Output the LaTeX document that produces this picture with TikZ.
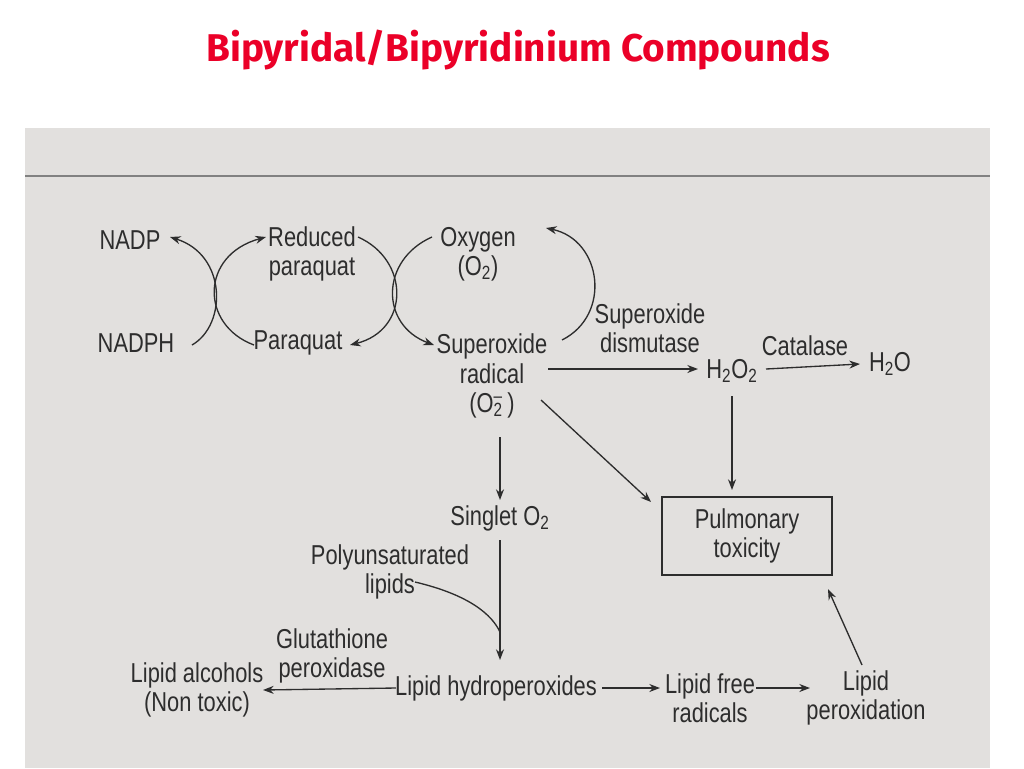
\documentclass[tikz,border=0pt]{standalone}
\usepackage{fontspec}
\setmainfont{Liberation Sans}[FakeStretch=0.8]
\newfontfamily\titlefont{Fira Sans}
\usetikzlibrary{arrows.meta}
\definecolor{scan}{RGB}{226,224,222}
\definecolor{ink}{RGB}{45,45,45}
\definecolor{titlered}{RGB}{235,0,40}
\begin{document}
\begin{tikzpicture}[x=0.75pt,y=-0.75pt,
  lab/.style={text=ink,font=\fontsize{20.5}{22}\selectfont,inner sep=1pt,align=center},
  arr/.style={draw=ink,line width=1pt,-{Stealth[length=8pt,width=6pt]}},
  ln/.style={draw=ink,line width=1pt}]
\useasboundingbox (0,0) rectangle (1024,768);
\fill[white] (0,0) rectangle (1024,768);
\fill[scan] (25,128) rectangle (990,768);
\draw[ink!60,line width=1.2pt] (25,176) -- (990,176);
\node[text=titlered,font=\titlefont\bfseries\fontsize{29}{32}\selectfont] (title) at (518,50) {Bipyridal/Bipyridinium Compounds};

\node[lab] (nadp) at (130,240) {NADP};
\node[lab] (nadph) at (136,343) {NADPH};
\node[lab] (red) at (312,254) {Reduced\\paraquat};
\node[lab] (pq) at (298,343) {Paraquat};
\node[lab] (oxy) at (478,254) {Oxygen\\(O\textsubscript{2})};
\node[lab] (sup) at (492,376) {Superoxide\\radical\\(O\rlap{\textsuperscript{–}}\textsubscript{2}\,)};
\node[lab] (sod) at (650,328) {Superoxide\\dismutase};
\node[lab] (h2o2) at (732,371) {H\textsubscript{2}O\textsubscript{2}};
\node[lab] (cat) at (805,346) {Catalase};
\node[lab] (h2o) at (890,364) {H\textsubscript{2}O};
\node[lab] (sing) at (500,518) {Singlet O\textsubscript{2}};
\node[lab,draw=ink,line width=1.1pt,minimum width=170*0.75pt,minimum height=78*0.75pt] (pul) at (747,536) {Pulmonary\\toxicity};
\node[lab] (pul2) at (390,572) {Polyunsaturated\\lipids};
\node[lab] (gpx) at (332,656) {Glutathione\\peroxidase};
\node[lab] (alc) at (197,690) {Lipid alcohols\\(Non toxic)};
\node[lab] (hyd) at (496,688) {Lipid hydroperoxides};
\node[lab] (lfr) at (710,698) {Lipid free\\radicals};
\node[lab] (lpo) at (866,698) {Lipid\\peroxidation};

\coordinate (c1) at (500,632);
\draw[arr] (192,345) .. controls (227,325) and (227,255) .. (170,237);
\draw[arr] (254,345) .. controls (200,325) and (200,255) .. (266,237);
\draw[arr] (358,237) .. controls (410,260) and (410,330) .. (350,345);
\draw[arr] (432,237) .. controls (380,260) and (380,325) .. (434,345);
\draw[arr] (562,340) .. controls (612,315) and (602,240) .. (546,228);
\draw[arr] (548,369) -- (698,369);
\draw[arr] (766,369) -- (860,364);
\draw[arr] (732,396) -- (732,490);
\draw[arr] (541,400) -- (651,502);
\draw[arr] (500,437) -- (500,500);
\draw[arr] (500,540) -- (500,660);
\draw[ln] (415,582) .. controls (470,595) and (492,615) .. (c1);
\draw[arr] (396,688) -- (263,690);
\draw[arr] (602,688) -- (660,688);
\draw[arr] (756,688) -- (810,688);
\draw[arr] (862,665) -- (828,589);
\end{tikzpicture}
\end{document}
